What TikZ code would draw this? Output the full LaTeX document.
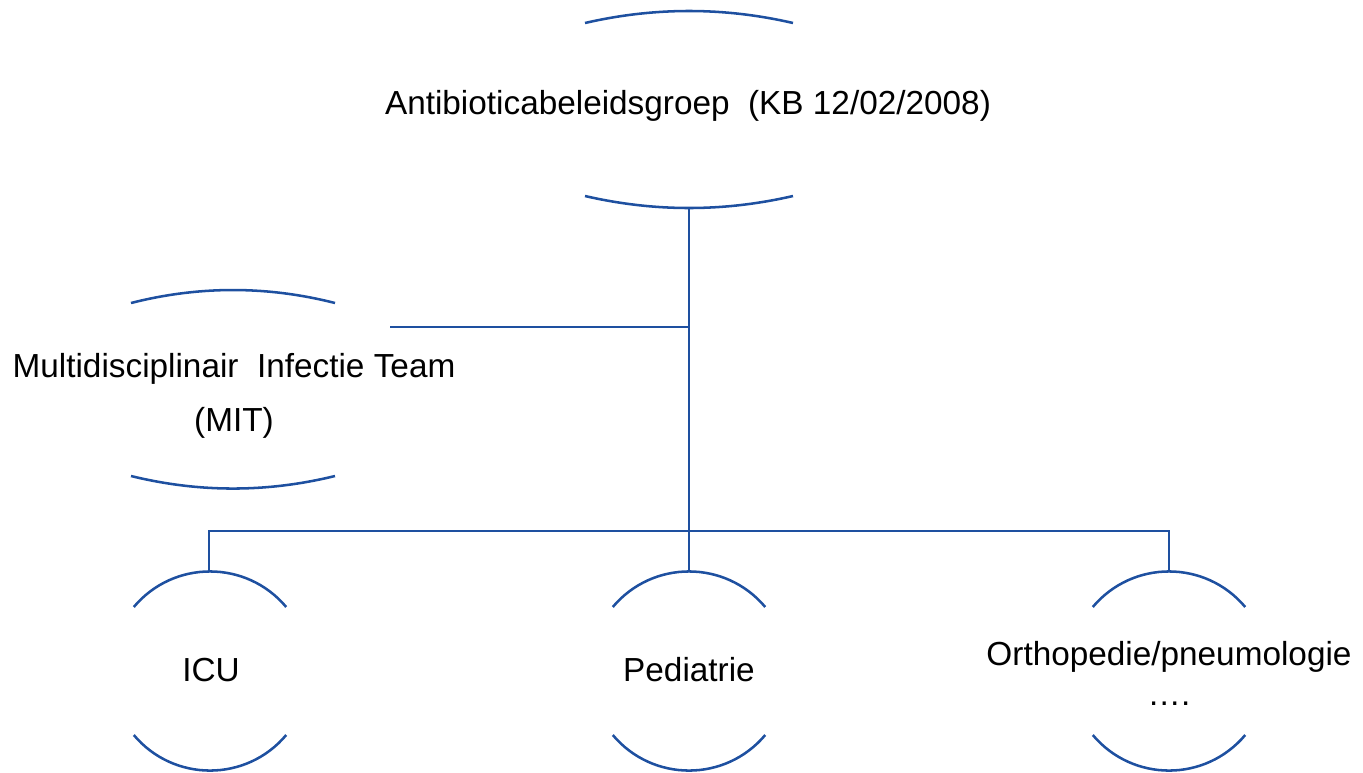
\documentclass[tikz,border=0pt]{standalone}
\usepackage{fontspec}
\setmainfont{Liberation Sans}
\definecolor{lineblue}{RGB}{30,80,160}
\begin{document}
\begin{tikzpicture}[x=0.75pt,y=-0.75pt,
  conn/.style={draw=lineblue,line width=1.9pt},
  arcline/.style={draw=lineblue,line width=1.9pt},
  lbl/.style={font=\fontsize{25}{40.8}\selectfont,inner sep=0pt,align=center,text=black,anchor=base},
  circbox/.pic={
    \draw[arcline] (-76.2,-64) .. controls +(39.8,-47.4) and +(-39.8,-47.4) .. (76.2,-64);
    \draw[arcline] (-76.2,64) .. controls +(39.8,47.4) and +(-39.8,47.4) .. (76.2,64);
  }]
\useasboundingbox (0,0) rectangle (1363,772);
% top group
\node[lbl] (abg) at (688,114.3) {Antibioticabeleidsgroep\ \ (KB 12/02/2008)};
\draw[arcline] (585,23) .. controls (654.3,7) and (723.7,7) .. (793,23);
\draw[arcline] (585,196) .. controls (654.3,212) and (723.7,212) .. (793,196);
\coordinate (abgB) at (689,208);
% MIT
\node[lbl] (mit) at (234,431.7) {Multidisciplinair\ \ Infectie Team\\(MIT)};
\draw[arcline] (131,303) .. controls (199,285.7) and (267,285.7) .. (335,303);
\draw[arcline] (131,476) .. controls (199,492.7) and (267,492.7) .. (335,476);
\coordinate (mitR) at (390,327);
% bottom
\pic at (210,671) {circbox};
\pic at (689,671) {circbox};
\pic at (1169,671) {circbox};
\node[lbl] (icu) at (211,681.7) {ICU};
\node[lbl] (ped) at (689,681.7) {Pediatrie};
\node[lbl,font=\fontsize{25}{30}\selectfont] (ort) at (1169,705) {Orthopedie/pneumologie\\….};
\coordinate (icuT) at (209,572);
\coordinate (pedT) at (689,572);
\coordinate (ortT) at (1169,572);
% junctions
\coordinate (j1) at (689,327);
\coordinate (j2) at (689,531);
\draw[conn] (abgB) -- (j1) -- (j2) -- (pedT);
\draw[conn] (mitR) -- (j1);
\draw[conn] (icuT) -- (209,531) -- (1169,531) -- (ortT);
\end{tikzpicture}
\end{document}
